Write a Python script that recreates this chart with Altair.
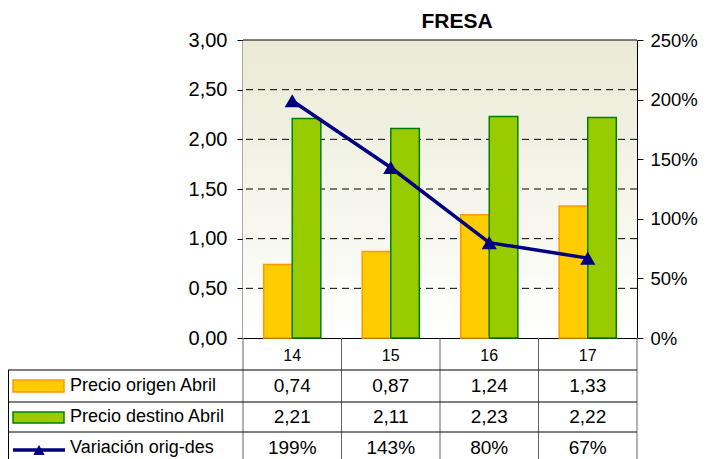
import altair as alt
import pandas as pd

# ---- data ----
categorias = ["14", "15", "16", "17"]
precio_origen = [0.74, 0.87, 1.24, 1.33]
precio_destino = [2.21, 2.11, 2.23, 2.22]
variacion = [1.99, 1.43, 0.80, 0.67]
series = ["Precio origen Abril", "Precio destino Abril", "Variación orig-des"]
ticks_izq = [0, 0.5, 1.0, 1.5, 2.0, 2.5, 3.0]
grid_izq = [0.5, 1.0, 1.5, 2.0, 2.5]
ticks_der = [0, 0.5, 1.0, 1.5, 2.0, 2.5]
titulo = "FRESA"

# ---- layout / style ----
W, H = 394, 298
FONT = "Liberation Sans, Arial, sans-serif"
NARROW = "Liberation Sans Narrow, Arial Narrow, Liberation Sans, sans-serif"
NAVY = "#000080"
ORANGE_FILL, ORANGE_STROKE = "#FFCC00", "#FF9900"
GREEN_FILL, GREEN_STROKE = "#99CC00", "#008000"
ROW_Y = [346, 377, 408]          # table row centres (px below plot top)
HLINES = [H + 32, H + 64, H + 94]
LEFT_EDGE = -235

df = pd.DataFrame({"cat": categorias, "origen": precio_origen,
                   "destino": precio_destino, "var": variacion})
bars_df = pd.DataFrame({
    "cat": categorias * 2,
    "serie": [series[0]] * len(categorias) + [series[1]] * len(categorias),
    "valor": precio_origen + precio_destino,
})
one = alt.Data(values=[{}])

x_axis = alt.Axis(title=None, ticks=False, domain=True, domainColor="black", domainWidth=1,
                  labelFont=NARROW, labelFontSize=16, labelPadding=9, labelAngle=0,
                  labelColor="black", grid=False)


def xenc():
    return alt.X("cat:N", sort=categorias,
                 scale=alt.Scale(domain=categorias, paddingInner=0.42, paddingOuter=0.21),
                 axis=x_axis)


left_axis = alt.Axis(values=ticks_izq, title=None, grid=False,
                     labelExpr="replace(format(datum.value, '.2f'), '.', ',')",
                     tickSize=6, tickColor="black", domainColor="#555555", domainWidth=2,
                     labelPadding=10, labelFont=FONT, labelFontSize=20, labelColor="black")

# background gradient
bg = alt.Chart(one).mark_rect(
    fill=alt.LinearGradient(gradient="linear",
                            stops=[alt.GradientStop(color="#EAEAD5", offset=0),
                                   alt.GradientStop(color="#FFFFFF", offset=1)],
                            x1=0, x2=0, y1=0, y2=1)
).encode(x=alt.value(0), x2=alt.value(W), y=alt.value(0), y2=alt.value(H))

yleft_scale = alt.Scale(domain=[0, 3], nice=False, zero=True)

grid = alt.Chart(pd.DataFrame({"g": grid_izq})).mark_rule(
    color="black", strokeWidth=1, strokeDash=[7, 5]
).encode(y=alt.Y("g:Q", scale=yleft_scale, axis=left_axis))

bars = alt.Chart(bars_df).mark_bar(strokeWidth=1.5).encode(
    x=xenc(),
    xOffset=alt.XOffset("serie:N", scale=alt.Scale(domain=series[:2], paddingInner=0, paddingOuter=0)),
    y=alt.Y("valor:Q", scale=yleft_scale, axis=left_axis),
    color=alt.Color("serie:N", scale=alt.Scale(domain=series[:2], range=[ORANGE_FILL, GREEN_FILL]), legend=None),
    stroke=alt.Stroke("serie:N", scale=alt.Scale(domain=series[:2], range=[ORANGE_STROKE, GREEN_STROKE]), legend=None),
)

left = alt.layer(grid, bars)

yright = alt.Y("var:Q", scale=alt.Scale(domain=[0, 2.5], nice=False, zero=True),
               axis=alt.Axis(orient="right", values=ticks_der, format=".0%", title=None, grid=False,
                             tickSize=6, tickColor="black", domainColor="black", domainWidth=1,
                             labelPadding=7, labelFont=FONT, labelFontSize=18.5, labelColor="black"))
line = alt.Chart(df).mark_line(color=NAVY, strokeWidth=3.5).encode(x=xenc(), y=yright)
pts = alt.Chart(df).mark_point(shape="triangle-up", filled=True, size=230, color=NAVY, opacity=1).encode(
    x=xenc(), y=yright)
right = alt.layer(line, pts)

# top border
top_border = alt.Chart(one).mark_rule(color="black", strokeWidth=1).encode(
    x=alt.value(0), x2=alt.value(W), y=alt.value(0))

# title
title = alt.Chart(one).mark_text(text=titulo, font=FONT, fontSize=21, fontWeight="bold",
                                 align="center", baseline="alphabetic", color="black").encode(
    x=alt.value(W / 2 + 17), y=alt.value(-12))

# ---- data table ----
table_layers = []
ncat = len(categorias)
for i in range(ncat + 1):
    table_layers.append(alt.Chart(one).mark_rule(color="#666666", strokeWidth=1).encode(
        x=alt.value(i * W / ncat), y=alt.value(H), y2=alt.value(H + 140)))
table_layers.append(alt.Chart(one).mark_rule(color="black", strokeWidth=1).encode(
    x=alt.value(LEFT_EDGE + 0.5), y=alt.value(HLINES[0]), y2=alt.value(H + 140)))
for hy in HLINES:
    table_layers.append(alt.Chart(one).mark_rule(color="black", strokeWidth=1).encode(
        x=alt.value(LEFT_EDGE), x2=alt.value(W), y=alt.value(hy)))

for lbl, ry in zip(series, ROW_Y):
    table_layers.append(alt.Chart(one).mark_text(text=lbl, font=FONT, fontSize=18, align="left",
                                                 baseline="middle", color="black").encode(
        x=alt.value(-173), y=alt.value(ry)))

# legend keys
table_layers.append(alt.Chart(one).mark_rect(fill=ORANGE_FILL, stroke=ORANGE_STROKE, strokeWidth=1.5).encode(
    x=alt.value(-230), x2=alt.value(-179), y=alt.value(ROW_Y[0] - 6), y2=alt.value(ROW_Y[0] + 6)))
table_layers.append(alt.Chart(one).mark_rect(fill=GREEN_FILL, stroke=GREEN_STROKE, strokeWidth=1.5).encode(
    x=alt.value(-230), x2=alt.value(-179), y=alt.value(ROW_Y[1] - 5), y2=alt.value(ROW_Y[1] + 6)))
table_layers.append(alt.Chart(one).mark_rule(color=NAVY, strokeWidth=3.5).encode(
    x=alt.value(-230), x2=alt.value(-178), y=alt.value(ROW_Y[2] + 2)))
table_layers.append(alt.Chart(one).mark_point(shape="triangle-up", filled=True, size=130, color=NAVY,
                                              opacity=1).encode(
    x=alt.value(-204), y=alt.value(ROW_Y[2] + 2)))

fmt_num = "replace(format(datum.{f}, '.2f'), '.', ',')"
for field, ry, expr in [("origen", ROW_Y[0], fmt_num.format(f="origen")),
                        ("destino", ROW_Y[1], fmt_num.format(f="destino")),
                        ("var", ROW_Y[2], "format(datum.var, '.0%')")]:
    table_layers.append(alt.Chart(df).transform_calculate(t=expr).mark_text(
        font=NARROW, fontSize=19, baseline="middle", align="center", color="black").encode(
        x=xenc(), y=alt.value(ry), text="t:N"))

chart = alt.layer(bg, left, right, top_border, title, *table_layers).resolve_scale(
    y="independent"
).properties(
    width=W, height=H,
    autosize=alt.AutoSizeParams(type="none"),
    padding={"left": 235, "top": 32, "right": 67, "bottom": 125},
).configure_view(stroke=None)

chart.save("out.html", embed_options={"renderer": "svg", "actions": False})
